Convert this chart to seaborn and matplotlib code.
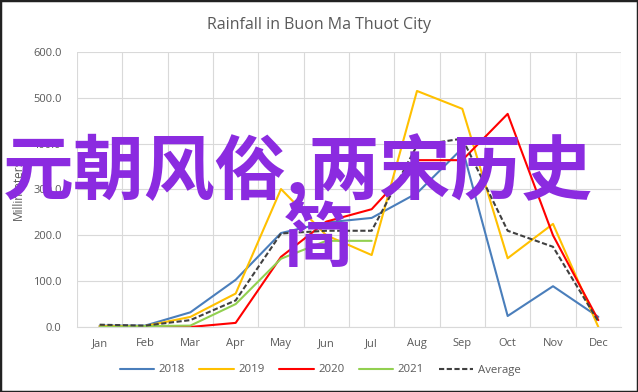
import numpy as np
import pandas as pd
import matplotlib
matplotlib.use("Agg")
import matplotlib.pyplot as plt
import seaborn as sns
from matplotlib.patches import Rectangle

# data (mm per month)
months = ["Jan", "Feb", "Mar", "Apr", "May", "Jun", "Jul", "Aug", "Sep", "Oct", "Nov", "Dec"]
y2018 = [3, 3, 32, 103, 205, 228, 238, 292, 390, 24, 89, 22]
y2019 = [2, 2, 22, 73, 301, 200, 157, 515, 476, 150, 225, 0]
y2020 = [0, 0, 0, 9, 153, 230, 257, 364, 364, 465, 200, 15]
y2021 = [0, 2, 3, 50, 149, 188, 188, np.nan, np.nan, np.nan, np.nan, np.nan]
avg = [5, 3, 15, 58, 204, 210, 210, 396, 411, 210, 175, 12]
series_names = ["2018", "2019", "2020", "2021", "Average"]
yticks = [0, 100, 200, 300, 400, 500, 600]

rows = []
for name, vals in zip(series_names, [y2018, y2019, y2020, y2021, avg]):
    for i, v in enumerate(vals):
        rows.append({"idx": i, "mm": v, "Series": name})
df = pd.DataFrame(rows)

sns.set_style("whitegrid")
plt.rcParams["font.family"] = ["Open Sans", "DejaVu Sans"]

palette = {"2018": "#4A7EBB", "2019": "#FFC000", "2020": "#FF0000",
           "2021": "#92D050", "Average": "#404040"}
dashes = {"2018": "", "2019": "", "2020": "", "2021": "", "Average": (2.5, 1.2)}

fig = plt.figure(figsize=(6.38, 3.92), dpi=100)
ax = fig.add_axes([77 / 638, 1 - 327 / 392, (621 - 77) / 638, (327 - 52) / 392])

sns.lineplot(data=df, x="idx", y="mm", hue="Series", style="Series",
             palette=palette, dashes=dashes, linewidth=1.5, ax=ax, legend=False)

ax.set_xlim(-0.5, 11.5)
ax.set_ylim(0, 600)
ax.set_xticks(range(12))
ax.set_xticklabels(months)
ax.set_xticks(np.arange(-0.5, 12, 1), minor=True)
ax.set_yticks(yticks)
ax.set_yticklabels([f"{v:.1f}" for v in yticks])
ax.grid(False)
ax.grid(True, which="minor", axis="x", color="#D9D9D9", linewidth=0.8)
ax.grid(True, which="major", axis="y", color="#D9D9D9", linewidth=0.8)
ax.tick_params(axis="both", which="both", length=0, colors="#595959", labelsize=8)
ax.tick_params(axis="x", pad=8)
ax.tick_params(axis="y", pad=11)
for s in ["top", "left", "right"]:
    ax.spines[s].set_visible(False)
ax.spines["bottom"].set_color("#D9D9D9")
ax.set_xlabel("")
ax.set_ylabel("Millimeters", color="#595959", fontsize=8.5, labelpad=6)
fig.suptitle("Rainfall in Buon Ma Thuot City", color="#595959", fontsize=11.5,
             x=0.5, y=1 - 25 / 392, va="center")

handles = [plt.Line2D([], [], color=palette[n], linewidth=1.5,
                      linestyle=(0, dashes[n]) if dashes[n] else "-") for n in series_names]
fig.legend(handles, series_names, loc="center", bbox_to_anchor=(320 / 638, 1 - 370 / 392),
           ncol=5, frameon=False, fontsize=8.2, handlelength=3.0, columnspacing=1.3,
           handletextpad=0.4, labelcolor="#595959")

# overlay text on the picture
cjk = ["Noto Sans CJK SC", "DejaVu Sans"]
fig.text(298 / 638, 1 - 172 / 392, "元朝风俗,两宋历史", family=cjk, fontsize=51,
         fontweight="bold", color="#8B2BE0", ha="center", va="center")
fig.text(318 / 638, 1 - 240 / 392, "简", family=cjk, fontsize=51,
         fontweight="bold", color="#8B2BE0", ha="center", va="center")

fig.patches.append(Rectangle((0, 0), 1, 1, transform=fig.transFigure, fill=False,
                             edgecolor="#222222", linewidth=2.5))

fig.savefig("out.png", dpi=100)
